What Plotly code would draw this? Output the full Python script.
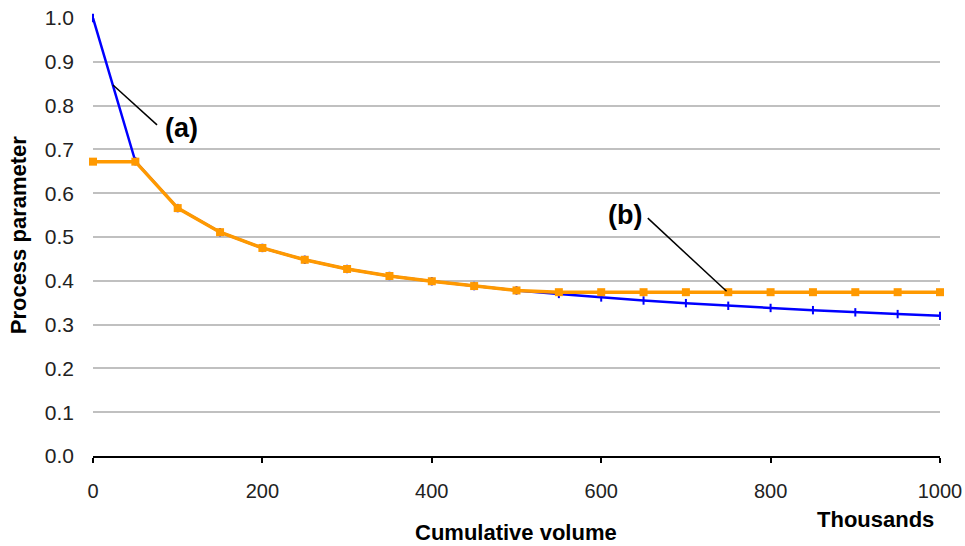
import plotly.graph_objects as go

# Cumulative volume (thousands)
volume = [0, 50, 100, 150, 200, 250, 300, 350, 400, 450, 500,
          550, 600, 650, 700, 750, 800, 850, 900, 950, 1000]

# (a) unconstrained process parameter
param_a = [1.000, 0.673, 0.566, 0.511, 0.475, 0.448, 0.427, 0.411, 0.399, 0.388, 0.378,
           0.370, 0.362, 0.355, 0.349, 0.343, 0.338, 0.333, 0.328, 0.324, 0.320]

# (b) bounded process parameter
param_b = [0.672, 0.672, 0.566, 0.511, 0.475, 0.448, 0.427, 0.411, 0.399, 0.388, 0.378,
           0.374, 0.374, 0.374, 0.374, 0.374, 0.374, 0.374, 0.374, 0.374, 0.374]

y_ticks = [0.0, 0.1, 0.2, 0.3, 0.4, 0.5, 0.6, 0.7, 0.8, 0.9, 1.0]
x_ticks = [0, 200, 400, 600, 800, 1000]

BLUE = "#0000FF"
ORANGE = "#FF9900"
FONT = "Liberation Sans, Arial, sans-serif"

fig = go.Figure()

fig.add_trace(go.Scatter(
    x=volume, y=param_a, mode="lines+markers",
    line=dict(color=BLUE, width=2.5),
    marker=dict(symbol="line-ns-open", size=6, line=dict(color=BLUE, width=2)),
    cliponaxis=False, showlegend=False,
))

fig.add_trace(go.Scatter(
    x=volume, y=param_b, mode="lines+markers",
    line=dict(color=ORANGE, width=3.5),
    marker=dict(symbol="square", size=8, color=ORANGE),
    cliponaxis=False, showlegend=False,
))

# leader lines for the curve labels
fig.add_shape(type="line", x0=23.6, y0=0.847, x1=75.6, y1=0.756,
              xref="x", yref="y", line=dict(color="black", width=1.5))
fig.add_shape(type="line", x0=655, y0=0.543, x1=748, y1=0.376,
              xref="x", yref="y", line=dict(color="black", width=1.5))

fig.add_annotation(x=104, y=0.748, xref="x", yref="y", text="<b>(a)</b>",
                   xanchor="center", yanchor="middle",
                   showarrow=False, font=dict(family=FONT, size=27, color="black"))
fig.add_annotation(x=628, y=0.550, xref="x", yref="y", text="<b>(b)</b>",
                   xanchor="center", yanchor="middle",
                   showarrow=False, font=dict(family=FONT, size=27, color="black"))

fig.add_annotation(x=0.924, y=-0.144, xref="paper", yref="paper", text="<b>Thousands</b>",
                   xanchor="center", yanchor="middle",
                   showarrow=False, font=dict(family=FONT, size=22, color="black"))
fig.add_annotation(x=0.499, y=-0.175, xref="paper", yref="paper", text="<b>Cumulative volume</b>",
                   xanchor="center", yanchor="middle",
                   showarrow=False, font=dict(family=FONT, size=22, color="black"))
fig.add_annotation(x=-0.088, y=0.505, xref="paper", yref="paper", text="<b>Process parameter</b>",
                   xanchor="center", yanchor="middle",
                   textangle=-90, showarrow=False, font=dict(family=FONT, size=22, color="black"))

fig.update_layout(
    width=965, height=546,
    margin=dict(l=93, r=25, t=18, b=90),
    paper_bgcolor="white", plot_bgcolor="white",
    font=dict(family=FONT, color="#222222"),
)

fig.update_xaxes(
    range=[0, 1000], tickvals=x_ticks, ticktext=[str(v) for v in x_ticks],
    showgrid=False, zeroline=False, automargin=False,
    showline=True, linecolor="black", linewidth=1.5,
    ticks="outside", ticklen=5, tickcolor="black", tickwidth=1.5,
    tickfont=dict(family=FONT, size=20, color="#222222"),
    ticklabelstandoff=11,
)

fig.update_yaxes(
    range=[0, 1.0], tickvals=y_ticks, ticktext=[f"{v:.1f}" for v in y_ticks],
    showgrid=True, gridcolor="#C0C0C0", gridwidth=1.5,
    zeroline=False, showline=False, ticks="", automargin=False,
    tickfont=dict(family=FONT, size=21, color="#222222"),
    ticklabelstandoff=18,
)

fig.write_html("out.html")
